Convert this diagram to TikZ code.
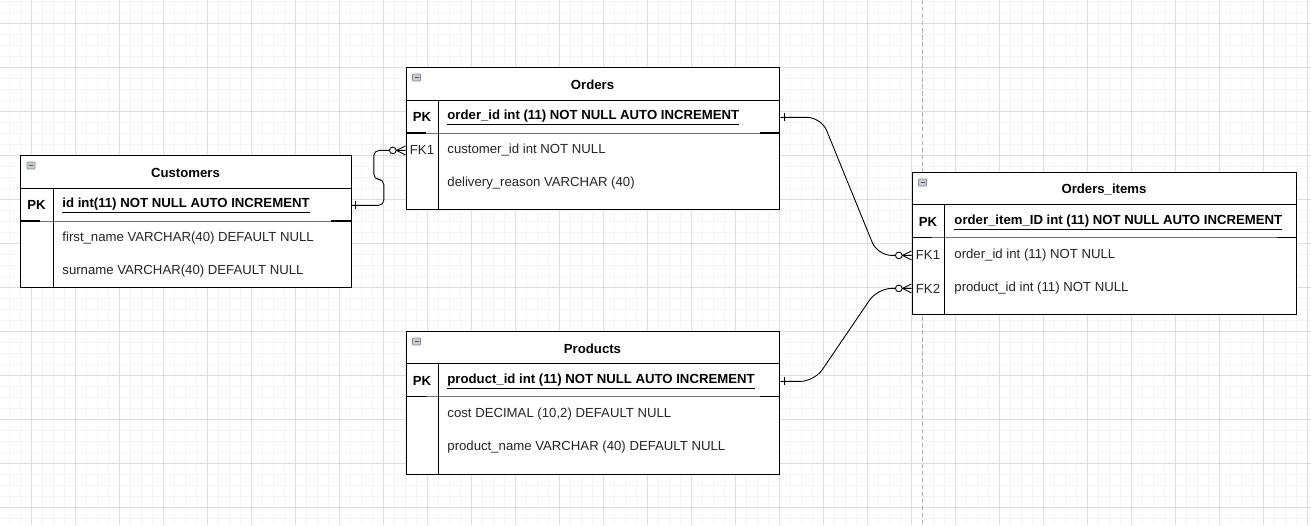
\documentclass[tikz,border=0pt]{standalone}
\usepackage{fontspec}
\setmainfont{Liberation Sans}
\usetikzlibrary{calc}

\definecolor{gridminor}{HTML}{F3F3F3}
\definecolor{gridmajor}{HTML}{DEDEDE}
\definecolor{iconfill}{HTML}{C9CED4}
\definecolor{icondraw}{HTML}{7F8A96}

\newcommand{\erfont}{\fontsize{7.5pt}{9pt}\selectfont}
\newcommand{\erOne}[1]{\draw ($(#1)+(4,-4)$) -- ($(#1)+(4,4)$);}
\newcommand{\erMany}[1]{%
  \draw ($(#1)+(-9,0)$) -- ($(#1)+(0,-4.5)$) ($(#1)+(-9,0)$) -- ($(#1)+(0,4.5)$);
  \draw[fill=white] ($(#1)+(-12.7,0)$) circle (1.9pt);}
\newcommand{\erIcon}[1]{%
  \draw[icondraw, fill=iconfill, line width=0.4pt, rounded corners=0.5pt] ($(#1)+(7,7)$) rectangle ($(#1)+(15,14)$);
  \draw[icondraw!60!black, line width=0.5pt] ($(#1)+(9,10.5)$) -- ($(#1)+(13,10.5)$);}

\begin{document}
\begin{tikzpicture}[x=0.02cm, y=-0.02cm, line width=0.5pt,
    tbl/.style={draw, anchor=north west, inner sep=0pt, fill=white},
    ertitle/.style={font=\erfont\bfseries, yshift=-0.6pt},
    erkey/.style={font=\erfont\bfseries, yshift=-0.8pt},
    erfk/.style={font=\erfont, text=black!85, yshift=-0.8pt},
    erfield/.style={anchor=west, inner sep=0pt, font=\erfont, text=black!85, yshift=-0.8pt},
    erpkfield/.style={anchor=west, inner sep=0pt, font=\erfont\bfseries, yshift=-0.8pt},
    errel/.style={rounded corners=8pt}]

    \useasboundingbox (0,0) rectangle (1311,525);

    % grid
    \foreach \gx in {9.3,20.3,...,1311} \draw[gridminor] (\gx,0) -- (\gx,525);
    \foreach \gy in {1.3,12.3,...,525} \draw[gridminor] (0,\gy) -- (1311,\gy);
    \foreach \gx in {31.3,75.3,...,1311} \draw[gridmajor] (\gx,0) -- (\gx,525);
    \foreach \gy in {23.3,67.3,...,525} \draw[gridmajor] (0,\gy) -- (1311,\gy);
    \draw[gray!60, dash pattern=on 2.5pt off 1.5pt] (922.5,0) -- (922.5,525);

    % Customers
    \node[tbl, minimum width=6.62cm, minimum height=2.64cm] (customers) at (20,155) {};
    \erIcon{customers.north west}
    \draw (20,188) -- (351,188);
    \draw[black!55] (20,221) -- (351,221);
    \draw[line width=0.8pt] (20,221) -- (40,221) (331,221) -- (351,221);
    \draw (53,188) -- (53,287);
    \node[ertitle] (customers-title) at (185.5,171.5) {Customers};
    \node[erkey] (customers-pk) at (36.5,204) {PK};
    \node[erpkfield] (customers-id) at (62,204) {\underline{id int(11) NOT NULL AUTO INCREMENT}};
    \node[erfield] (customers-first) at (62,237) {first\_name VARCHAR(40) DEFAULT NULL};
    \node[erfield] (customers-last) at (62,270) {surname VARCHAR(40) DEFAULT NULL};

    % Orders
    \node[tbl, minimum width=7.48cm, minimum height=2.84cm] (orders) at (405.5,67) {};
    \erIcon{orders.north west}
    \draw (405.5,100) -- (779.5,100);
    \draw[black!55] (405.5,133) -- (779.5,133);
    \draw[line width=0.8pt] (405.5,133) -- (425.5,133) (759.5,133) -- (779.5,133);
    \draw (438.5,100) -- (438.5,209);
    \node[ertitle] (orders-title) at (592.5,83.5) {Orders};
    \node[erkey] (orders-pk) at (422,116) {PK};
    \node[erpkfield] (orders-id) at (447,116) {\underline{order\_id int (11) NOT NULL AUTO INCREMENT}};
    \node[erfk] (orders-fk1) at (422,149) {FK1};
    \node[erfield] (orders-customer) at (447,149) {customer\_id int NOT NULL};
    \node[erfield] (orders-reason) at (447,182) {delivery\_reason VARCHAR (40)};

    % Orders_items
    \node[tbl, minimum width=7.70cm, minimum height=2.84cm] (items) at (911.5,172) {};
    \erIcon{items.north west}
    \draw (911.5,204.5) -- (1296.5,204.5);
    \draw[black!55] (911.5,237.5) -- (1296.5,237.5);
    \draw[line width=0.8pt] (911.5,237.5) -- (931.5,237.5) (1276.5,237.5) -- (1296.5,237.5);
    \draw (944.5,204.5) -- (944.5,314);
    \node[ertitle] (items-title) at (1104,188.5) {Orders\_items};
    \node[erkey] (items-pk) at (928,221) {PK};
    \node[erpkfield] (items-id) at (954,221) {\underline{order\_item\_ID int (11) NOT NULL AUTO INCREMENT}};
    \node[erfk] (items-fk1) at (928,254) {FK1};
    \node[erfield] (items-order) at (954,254) {order\_id int (11) NOT NULL};
    \node[erfk] (items-fk2) at (928,287) {FK2};
    \node[erfield] (items-product) at (954,287) {product\_id int (11) NOT NULL};

    % Products
    \node[tbl, minimum width=7.48cm, minimum height=2.86cm] (products) at (405.5,331) {};
    \erIcon{products.north west}
    \draw (405.5,363.5) -- (779.5,363.5);
    \draw[black!55] (405.5,396.5) -- (779.5,396.5);
    \draw[line width=0.8pt] (405.5,396.5) -- (425.5,396.5) (759.5,396.5) -- (779.5,396.5);
    \draw (438.5,363.5) -- (438.5,474);
    \node[ertitle] (products-title) at (592.5,347.5) {Products};
    \node[erkey] (products-pk) at (422,380) {PK};
    \node[erpkfield] (products-id) at (447,380) {\underline{product\_id int (11) NOT NULL AUTO INCREMENT}};
    \node[erfield] (products-cost) at (447,413) {cost DECIMAL (10,2) DEFAULT NULL};
    \node[erfield] (products-name) at (447,446) {product\_name VARCHAR (40) DEFAULT NULL};

    \coordinate (cust-out) at (customers.east |- customers-pk);
    \coordinate (ord-in) at (orders.west |- orders-fk1);
    \coordinate (ord-out) at (orders.east |- orders-pk);
    \coordinate (item-in1) at (items.west |- items-fk1);
    \coordinate (prod-out) at (products.east |- products-pk);
    \coordinate (item-in2) at (items.west |- items-fk2);

    % relations
    \draw[rounded corners=3pt] (cust-out) -- ++(32,0) -- ++(0,-26) -- ++(-10,0) |- (ord-in);
    \draw[errel] (ord-out) -- ++(41,0) -- ($(item-in1)+(-34,0)$) -- (item-in1);
    \draw[errel] (prod-out) -- ++(34,0) -- ($(item-in2)+(-34,0)$) -- (item-in2);

    \erOne{cust-out}
    \erOne{ord-out}
    \erOne{prod-out}
    \erMany{ord-in}
    \erMany{item-in1}
    \erMany{item-in2}

\end{tikzpicture}
\end{document}
